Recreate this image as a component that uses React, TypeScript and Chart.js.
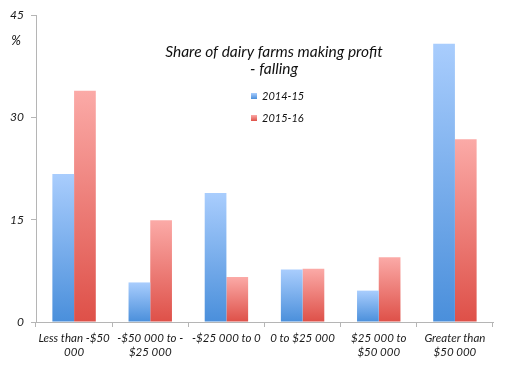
import React, { useEffect, useRef } from "react";
import { Chart, registerables } from "chart.js";

Chart.register(...registerables);

const categories: string[][] = [
  ["Less than -$50", "000"],
  ["-$50 000 to -", "$25 000"],
  ["-$25 000 to 0"],
  ["0 to $25 000"],
  ["$25 000 to", "$50 000"],
  ["Greater than", "$50 000"],
];
const series2014: number[] = [21.7, 5.8, 18.9, 7.7, 4.6, 40.8];
const series2015: number[] = [33.9, 14.9, 6.6, 7.8, 9.5, 26.8];
const seriesNames: string[] = ["2014-15", "2015-16"];
const yTicks: number[] = [0, 15, 30, 45];
const titleLines: string[] = ["Share of dairy farms making profit", "- falling"];
const unitLabel = "%";

const FONT = "Lato, 'Open Sans', sans-serif";
const BLUE_TOP = "#a9cdfd";
const BLUE_BOTTOM = "#4a8fdb";
const RED_TOP = "#fbaaa7";
const RED_BOTTOM = "#de5048";

function barGradient(top: string, bottom: string) {
  return (ctx: any) => {
    const chart = ctx.chart;
    const y = chart.scales && chart.scales.y;
    if (!y || ctx.type !== "data" || typeof y.getPixelForValue !== "function") return top;
    const v = ctx.raw as number;
    const pTop = y.getPixelForValue(v);
    const pBottom = y.getPixelForValue(0);
    if (!isFinite(pTop) || !isFinite(pBottom) || pTop === pBottom) return top;
    const g = chart.ctx.createLinearGradient(0, pTop, 0, pBottom);
    g.addColorStop(0, top);
    g.addColorStop(1, bottom);
    return g;
  };
}

const overlayPlugin = {
  id: "overlay",
  afterDraw(chart: any) {
    const ctx = chart.ctx as CanvasRenderingContext2D;
    ctx.save();
    ctx.fillStyle = "#111";
    ctx.textAlign = "center";
    ctx.textBaseline = "alphabetic";
    ctx.font = `italic 15.5px ${FONT}`;
    ctx.fillText(titleLines[0], 274, 57);
    ctx.fillText(titleLines[1], 274, 74);
    const legendItems = [
      { label: seriesNames[0], top: BLUE_TOP, bottom: BLUE_BOTTOM, y: 96 },
      { label: seriesNames[1], top: RED_TOP, bottom: RED_BOTTOM, y: 118 },
    ];
    ctx.font = `italic 11px ${FONT}`;
    ctx.textAlign = "left";
    ctx.textBaseline = "middle";
    for (const it of legendItems) {
      const g = ctx.createLinearGradient(0, it.y - 3, 0, it.y + 3);
      g.addColorStop(0, it.top);
      g.addColorStop(1, it.bottom);
      ctx.fillStyle = g;
      ctx.fillRect(251, it.y - 3, 6, 6);
      ctx.fillStyle = "#111";
      ctx.fillText(it.label, 262, it.y);
    }
    ctx.font = `italic 13px ${FONT}`;
    ctx.textAlign = "center";
    ctx.fillText(unitLabel, 16, 41);
    ctx.restore();
  },
};

export default function App() {
  const ref = useRef<HTMLCanvasElement | null>(null);
  useEffect(() => {
    if (!ref.current) return;
    const chart = new Chart(ref.current, {
      type: "bar",
      data: {
        labels: categories,
        datasets: [
          {
            label: seriesNames[0],
            data: series2014,
            backgroundColor: barGradient(BLUE_TOP, BLUE_BOTTOM),
            borderWidth: 0,
            categoryPercentage: 0.57,
            barPercentage: 1,
          },
          {
            label: seriesNames[1],
            data: series2015,
            backgroundColor: barGradient(RED_TOP, RED_BOTTOM),
            borderWidth: 0,
            categoryPercentage: 0.57,
            barPercentage: 1,
          },
        ],
      },
      options: {
        responsive: false,
        animation: false,
        layout: { padding: { top: 15, right: 16, left: 0, bottom: 0 } },
        plugins: {
          legend: { display: false },
          title: { display: false },
          tooltip: { enabled: false },
        },
        scales: {
          x: {
            offset: true,
            grid: {
              offset: true,
              drawOnChartArea: false,
              drawTicks: true,
              tickLength: 5,
              color: "#b5b5b5",
            },
            border: { display: true, color: "#b5b5b5", width: 1 },
            ticks: {
              color: "#1a1a1a",
              font: { family: FONT, size: 11.5, style: "italic", lineHeight: 1.15 },
              padding: 5,
              maxRotation: 0,
              minRotation: 0,
              autoSkip: false,
            },
            afterFit: (s: any) => {
              s.height = 46;
            },
          },
          y: {
            min: 0,
            max: 45,
            afterBuildTicks: (s: any) => {
              s.ticks = yTicks.map((v) => ({ value: v }));
            },
            grid: {
              drawOnChartArea: false,
              drawTicks: true,
              tickLength: 5,
              color: "#b5b5b5",
            },
            border: { display: true, color: "#b5b5b5", width: 1 },
            ticks: {
              color: "#1a1a1a",
              font: { family: FONT, size: 12, style: "italic" },
              padding: 7,
            },
            afterFit: (s: any) => {
              s.width = 36;
            },
          },
        },
      },
      plugins: [overlayPlugin],
    });
    return () => chart.destroy();
  }, []);
  return (
    <div style={{ position: "absolute", left: 0, top: 0, width: 509, height: 368, background: "#fff" }}>
      <canvas ref={ref} width={509} height={368} style={{ width: 509, height: 368 }} />
    </div>
  );
}
